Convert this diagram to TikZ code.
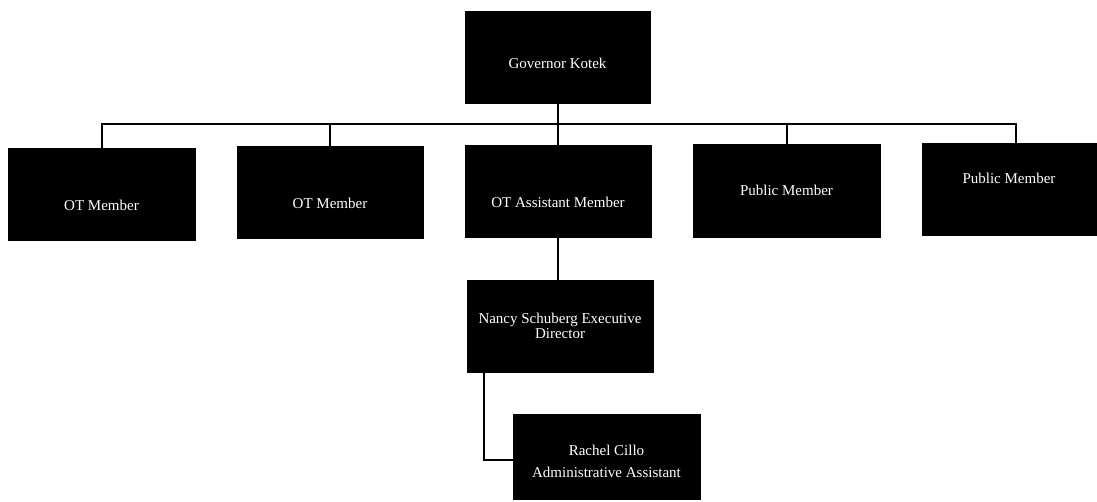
\documentclass[tikz,border=0pt]{standalone}
\usepackage{fontspec}
\setmainfont{Liberation Serif}
\begin{document}
\begin{tikzpicture}[x=1pt,y=-1pt,
  box/.style={draw=black,fill=black,line width=0.6pt,inner sep=0pt,minimum height=92pt,minimum width=186pt},
  lbl/.style={text=white,font=\fontsize{15}{15.5}\selectfont,align=center,inner sep=0pt},
  conn/.style={draw=black,line width=2pt}]
\useasboundingbox[fill=white] (0,0) rectangle (1097,501);
\node[box,minimum width=185pt,label={[lbl,yshift=-6pt]center:Governor Kotek}] (gov) at (557.5,57) {};
\node[box,minimum width=187pt,label={[lbl,yshift=-11pt]center:OT Member}] (m1) at (101.5,194) {};
\node[box,label={[lbl,yshift=-11pt]center:OT Member}] (m2) at (330,192) {};
\node[box,label={[lbl,yshift=-11pt]center:OT Assistant Member}] (asst) at (558,191) {};
\node[box,minimum width=187pt,minimum height=93pt,label={[lbl]center:Public Member}] (p1) at (786.5,190.5) {};
\node[box,minimum width=174pt,label={[lbl,yshift=11pt]center:Public Member}] (p2) at (1009,189) {};
\node[box,label={[lbl]center:Nancy Schuberg Executive\\Director}] (nancy) at (560,326) {};
\node[box,minimum width=187pt,minimum height=85pt,label={[lbl,font=\fontsize{15}{22}\selectfont,yshift=-4.5pt]center:Rachel Cillo\\Administrative Assistant}] (rachel) at (606.5,456.5) {};
\coordinate (bus) at (102,124);
\coordinate (p2top) at ([xshift=7pt]p2.north);
\draw[conn] (m1.north) -- (m1.north |- bus) -- (p2top |- bus) -- (p2top);
\draw[conn] (m2.north) -- (m2.north |- bus);
\draw[conn] (p1.north) -- (p1.north |- bus);
\draw[conn] (gov.south) -- (gov.south |- asst.north);
\draw[conn] (asst.south) -- (asst.south |- nancy.north);
\draw[conn] ([xshift=-76pt]nancy.south) |- ([yshift=-3.5pt]rachel.west);
\end{tikzpicture}
\end{document}
